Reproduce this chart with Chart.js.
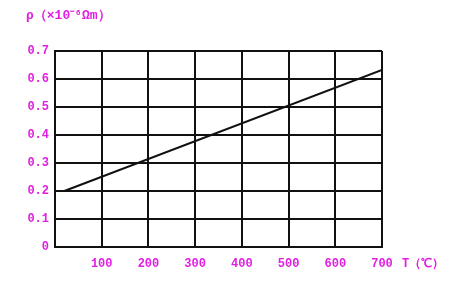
<!DOCTYPE html>
<html>
<head>
<meta charset="utf-8">
<script src="https://cdn.jsdelivr.net/npm/chart.js@4/dist/chart.umd.min.js"></script>
<style>
  html, body { margin: 0; padding: 0; background: #fff; }
  #wrap { width: 450px; height: 294px; position: relative; }
</style>
</head>
<body>
<div id="wrap"><canvas id="myChart"></canvas></div>
<script>
// data
const temps = [20, 700];
const resistivity = [0.2, 0.632];
const xTicks = [0, 100, 200, 300, 400, 500, 600, 700];
const yTicks = [0, 0.1, 0.2, 0.3, 0.4, 0.5, 0.6, 0.7];

const magenta = '#e020e0';
const tickFont = { family: 'Liberation Mono', size: 12, weight: 'bold' };

// axis captions drawn in the canvas corners
const captions = {
  id: 'captions',
  afterDraw(chart) {
    const ctx = chart.ctx;
    ctx.save();
    ctx.fillStyle = magenta;
    ctx.font = 'bold 13px "Liberation Mono"';
    ctx.textBaseline = 'middle';
    ctx.fillText('ρ（×10⁻⁶Ωm）', 26, 16);
    ctx.font = 'bold 12px "Liberation Mono"';
    ctx.fillText('T（℃）', 402, 264);
    ctx.restore();
  }
};

const data = {
  datasets: [{
    data: temps.map((t, i) => ({ x: t, y: resistivity[i] })),
    borderColor: '#111',
    borderWidth: 2,
    pointRadius: 0,
    showLine: true,
    fill: false
  }]
};

const config = {
  type: 'scatter',
  data: data,
  options: {
    responsive: true,
    maintainAspectRatio: false,
    animation: false,
    layout: { padding: { left: 0, right: 68, top: 51, bottom: 0 } },
    plugins: { legend: { display: false }, tooltip: { enabled: false } },
    scales: {
      x: {
        type: 'linear',
        min: 0,
        max: 700,
        afterBuildTicks: (s) => { s.ticks = xTicks.map(v => ({ value: v })); },
        afterFit: (s) => { s.height = 47; },
        grid: { color: '#111', lineWidth: 2, tickLength: 0 },
        border: { color: '#111', width: 2 },
        ticks: {
          color: magenta,
          font: tickFont,
          padding: 10,
          maxRotation: 0,
          callback: (v) => v === 0 ? '' : String(v)
        }
      },
      y: {
        type: 'linear',
        min: 0,
        max: 0.7,
        afterBuildTicks: (s) => { s.ticks = yTicks.map(v => ({ value: v })); },
        afterFit: (s) => { s.width = 55; },
        grid: { color: '#111', lineWidth: 2, tickLength: 0 },
        border: { color: '#111', width: 2 },
        ticks: {
          color: magenta,
          font: tickFont,
          padding: 6,
          callback: (v) => v === 0 ? '0' : v.toFixed(1)
        }
      }
    }
  },
  plugins: [captions]
};

new Chart(document.getElementById('myChart'), config);
</script>
</body>
</html>
